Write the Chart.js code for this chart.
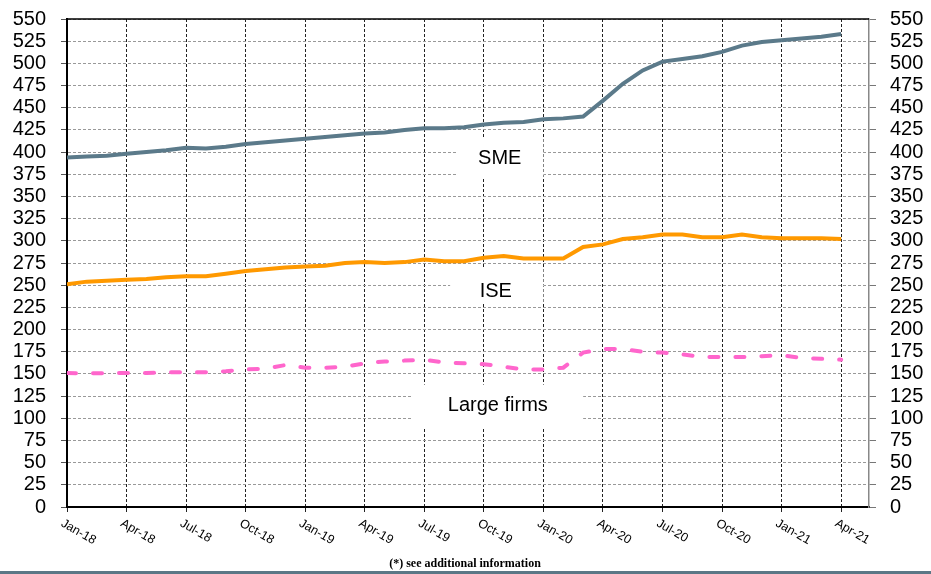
<!DOCTYPE html>
<html>
<head>
<meta charset="utf-8">
<script src="https://cdn.jsdelivr.net/npm/chart.js@4"></script>
<style>
  body { margin: 0; background: #fff; }
  #wrap { position: relative; width: 931px; height: 574px; }
</style>
</head>
<body>
<div id="wrap"><canvas id="chart" width="931" height="574"></canvas></div>
<script>
// monthly, Jan-18 .. Apr-21
var months = ['Jan-18','Feb-18','Mar-18','Apr-18','May-18','Jun-18','Jul-18','Aug-18','Sep-18','Oct-18','Nov-18','Dec-18',
              'Jan-19','Feb-19','Mar-19','Apr-19','May-19','Jun-19','Jul-19','Aug-19','Sep-19','Oct-19','Nov-19','Dec-19',
              'Jan-20','Feb-20','Mar-20','Apr-20','May-20','Jun-20','Jul-20','Aug-20','Sep-20','Oct-20','Nov-20','Dec-20',
              'Jan-21','Feb-21','Mar-21','Apr-21'];
var sme = [394,395,396,398,400,402,405,404,406,409,411,413,
           415,417,419,421,422,425,427,427,428,431,433,434,
           437,438,440,458,477,492,502,505,508,513,520,524,
           526,528,530,533];
var ise = [251,254,255,256,257,259,260,260,263,266,268,270,
           271,272,275,276,275,276,279,277,277,281,283,280,
           280,280,293,296,302,304,307,307,304,304,307,304,
           303,303,303,302];
var large = [151,150.5,151,151,151,152,152,152,153,155,156,160,
             157,157,158,162,164,165,166,163,162,161,158,155,
             155,157,174,178,178,175,174,172,169,169,169,170,
             171,168,167,166];
var yTicks = [0,550,25];          // min, max, step
var quarterTicks = [0,3,6,9,12,15,18,21,24,27,30,33,36,39];

// series name boxes, in data units (month index / value)
var nameBoxes = [
  { text: 'SME',         x1: 19.6, x2: 24.0, y1: 416, y2: 371, tx: 21.8, ty: 393 },
  { text: 'ISE',         x1: 19.3, x2: 24.0, y1: 269, y2: 230, tx: 21.6, ty: 243 },
  { text: 'Large firms', x1: 17.4, x2: 26.0, y1: 138, y2: 89,  tx: 21.7, ty: 114 }
];

function pts(arr) { return arr.map(function (v, i) { return { x: i, y: v }; }); }

var font = "'Liberation Sans', Arial, sans-serif";

var extras = {
  id: 'extras',
  beforeDatasetsDraw: function (chart) {
    var c = chart.ctx, xs = chart.scales.x, ys = chart.scales.y, a = chart.chartArea;
    c.save();
    // white boxes behind series names
    nameBoxes.forEach(function (b) {
      var l = xs.getPixelForValue(b.x1), r = xs.getPixelForValue(b.x2);
      var t = ys.getPixelForValue(b.y1), btm = ys.getPixelForValue(b.y2);
      c.fillStyle = '#fff';
      c.fillRect(l, t, r - l, btm - t);
      c.fillStyle = '#000';
      c.font = '20px ' + font;
      c.textAlign = 'center';
      c.textBaseline = 'middle';
      c.fillText(b.text, xs.getPixelForValue(b.tx), ys.getPixelForValue(b.ty));
    });
    // top frame line
    c.strokeStyle = '#000';
    c.lineWidth = 1.5;
    c.beginPath();
    c.moveTo(a.left, a.top);
    c.lineTo(a.right, a.top);
    c.stroke();
    c.restore();
  },
  afterDraw: function (chart) {
    var c = chart.ctx, xs = chart.scales.x, a = chart.chartArea;
    c.save();
    // slanted month labels
    c.fillStyle = '#000';
    c.font = '12.5px ' + font;
    c.textAlign = 'left';
    c.textBaseline = 'top';
    quarterTicks.forEach(function (i) {
      var px = xs.getPixelForValue(i);
      c.save();
      c.translate(px - 2, a.bottom + 10);
      c.rotate(30 * Math.PI / 180);
      c.fillText(months[i], 0, 0);
      c.restore();
    });
    // footer note + bar
    c.font = 'bold 12px "Liberation Serif", "Times New Roman", serif';
    c.textAlign = 'center';
    c.textBaseline = 'alphabetic';
    c.fillText('(*) see additional information', 465, 567);
    c.fillStyle = '#5b7786';
    c.fillRect(0, 571, chart.width, 3);
    c.restore();
  }
};

function fixWidth(w) {
  return function (s) { s.width = w; s.paddingTop = 0; s.paddingBottom = 0; };
}

var ctx = document.getElementById('chart');
var chart = new Chart(ctx, {
  type: 'line',
  data: {
    datasets: [
      { label: 'SME', data: pts(sme), borderColor: '#5b7a8a', borderWidth: 4, pointRadius: 0, tension: 0 },
      { label: 'ISE', data: pts(ise), borderColor: '#ff9900', borderWidth: 4, pointRadius: 0, tension: 0 },
      { label: 'Large firms', data: pts(large), borderColor: '#ff66cc', borderWidth: 4, pointRadius: 0, tension: 0,
        borderDash: [9, 17], borderCapStyle: 'round' }
    ]
  },
  options: {
    responsive: false,
    animation: false,
    devicePixelRatio: 1,
    layout: { padding: { top: 19, left: 0, right: 0, bottom: 0 } },
    plugins: { legend: { display: false }, tooltip: { enabled: false } },
    scales: {
      x: {
        type: 'linear',
        min: 0,
        max: 40.4,
        afterBuildTicks: function (s) { s.ticks = quarterTicks.map(function (v) { return { value: v }; }); },
        afterFit: function (s) { s.height = 67; s.paddingLeft = 0; s.paddingRight = 0; },
        ticks: { display: false },
        grid: { color: '#222', lineWidth: 1, tickLength: 5, tickColor: '#222', tickBorderDash: [] },
        border: { color: '#000', width: 2, dash: [3, 2] }
      },
      y: {
        position: 'left',
        min: yTicks[0],
        max: yTicks[1],
        afterFit: fixWidth(67),
        ticks: { stepSize: yTicks[2], autoSkip: false, color: '#000', font: { family: font, size: 20 }, padding: 15 },
        grid: { color: '#999', lineWidth: 1, tickLength: 6, tickColor: '#555', tickBorderDash: [] },
        border: { color: '#000', width: 2, dash: [3, 2] }
      },
      y2: {
        position: 'right',
        min: yTicks[0],
        max: yTicks[1],
        afterFit: fixWidth(62),
        ticks: { stepSize: yTicks[2], autoSkip: false, color: '#000', font: { family: font, size: 20 }, padding: 14 },
        grid: { drawOnChartArea: false, tickLength: 7, tickColor: '#777' },
        border: { color: '#888', width: 1.5 }
      }
    }
  },
  plugins: [extras]
});
</script>
</body>
</html>
